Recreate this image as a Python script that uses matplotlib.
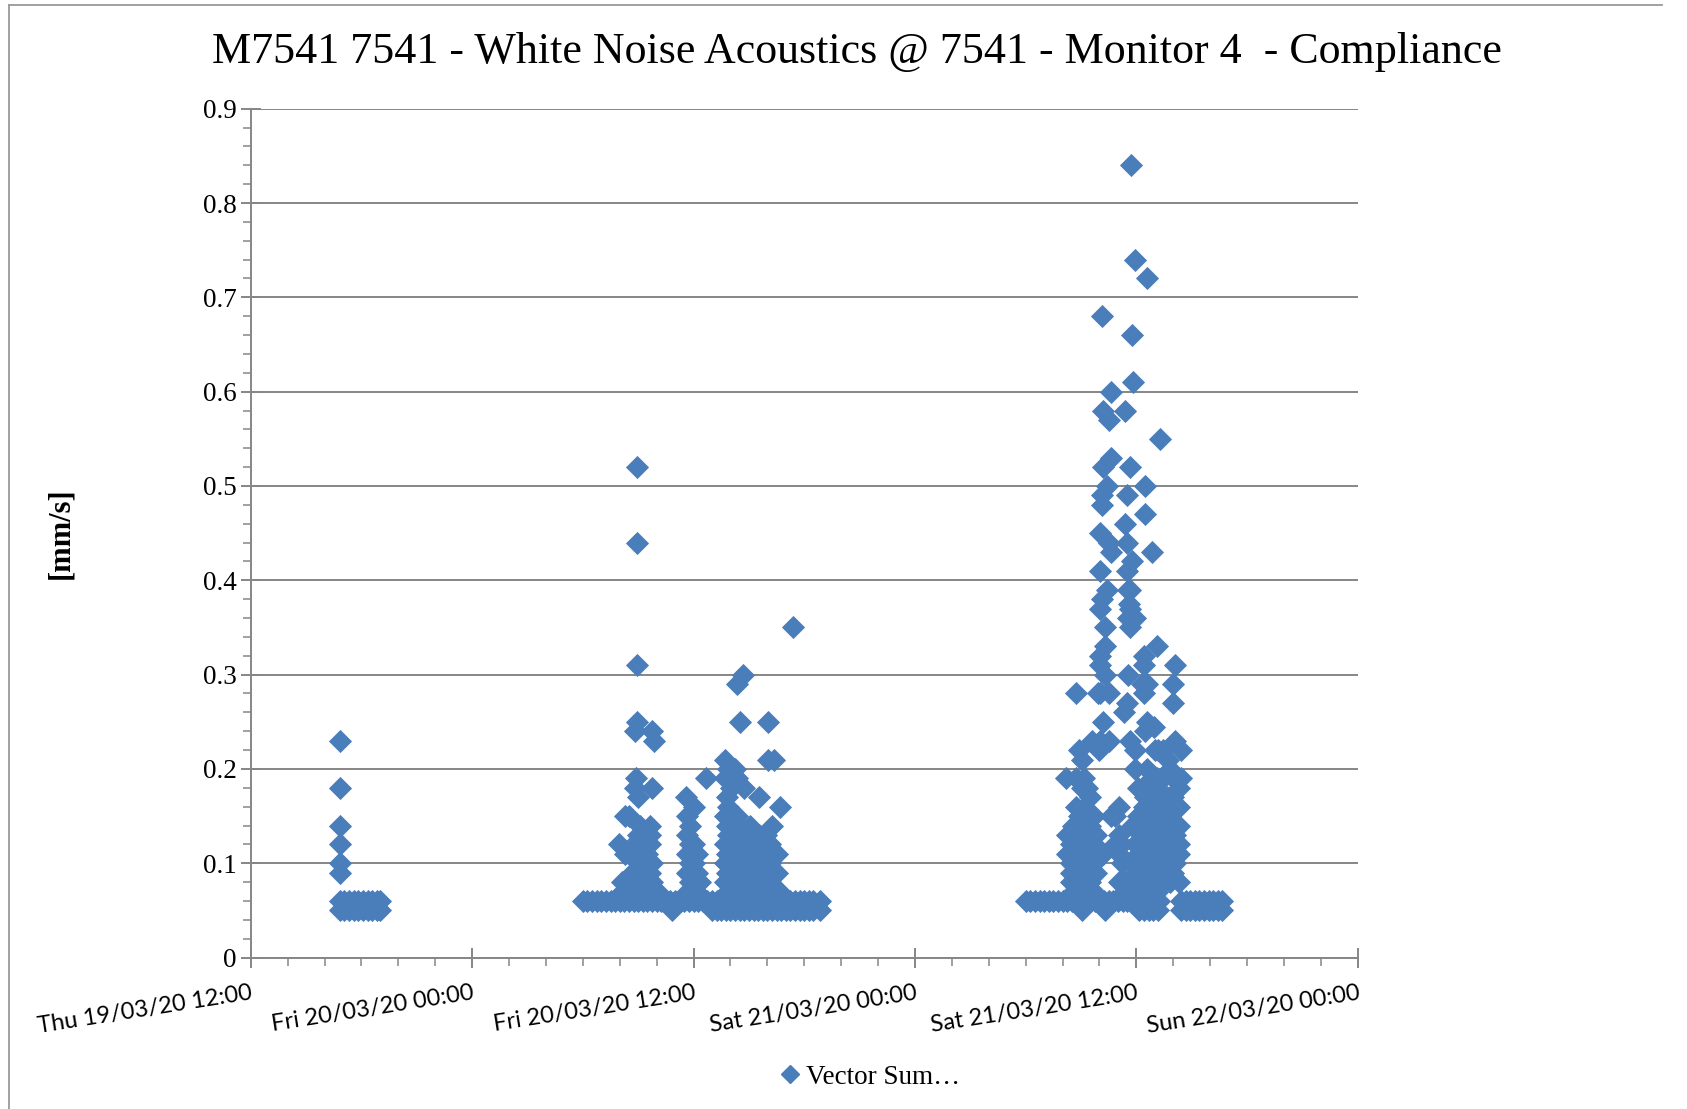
import matplotlib
matplotlib.use("Agg")
import matplotlib.pyplot as plt
import matplotlib.dates as mdates
from matplotlib.lines import Line2D
from matplotlib.ticker import MultipleLocator, FuncFormatter
import pandas as pd

TITLE = "M7541 7541 - White Noise Acoustics @ 7541 - Monitor 4  - Compliance"
Y_LABEL = "[mm/s]"
SERIES_NAME = "Vector Sum\u2026"
X_START = "2020-03-19 12:00"
X_END = "2020-03-22 00:00"
Y_MIN, Y_MAX = 0.0, 0.9

# Thu 19/03/20 readings (time, mm/s)
thu_points = [
    ("16:50", 0.23), ("16:50", 0.18), ("16:50", 0.14), ("16:50", 0.12), ("16:50", 0.10), ("16:50", 0.09),
    ("16:50", 0.06), ("16:50", 0.05), ("17:05", 0.06), ("17:05", 0.05), ("17:20", 0.06), ("17:20", 0.05),
    ("17:35", 0.06), ("17:35", 0.05), ("17:50", 0.06), ("17:50", 0.05), ("18:05", 0.06), ("18:05", 0.05),
    ("18:20", 0.06), ("18:20", 0.05), ("18:35", 0.06), ("18:35", 0.05), ("18:50", 0.06), ("18:50", 0.05),
    ("19:00", 0.06), ("19:00", 0.05),
]

# Fri 20/03/20 readings
fri_points = [
    # floor readings
    ("06:00", 0.06), ("06:15", 0.06), ("06:30", 0.06), ("06:45", 0.06), ("07:00", 0.06), ("07:15", 0.06),
    ("07:30", 0.06), ("07:45", 0.06), ("08:00", 0.06), ("08:15", 0.06), ("08:30", 0.06), ("08:45", 0.06),
    ("09:00", 0.06), ("09:15", 0.06), ("09:30", 0.06), ("09:45", 0.06), ("10:00", 0.06), ("10:15", 0.06),
    ("10:30", 0.06), ("10:45", 0.06), ("11:00", 0.06), ("11:15", 0.06), ("11:30", 0.06), ("11:45", 0.06),
    ("12:00", 0.06), ("12:15", 0.06), ("12:30", 0.06), ("12:45", 0.06), ("13:00", 0.06), ("13:15", 0.06),
    ("13:30", 0.06), ("13:45", 0.06), ("14:00", 0.06), ("14:15", 0.06), ("14:30", 0.06), ("14:45", 0.06),
    ("15:00", 0.06), ("15:15", 0.06), ("15:30", 0.06), ("15:45", 0.06), ("16:00", 0.06), ("16:15", 0.06),
    ("16:30", 0.06), ("16:45", 0.06), ("17:00", 0.06), ("17:15", 0.06), ("17:30", 0.06), ("17:45", 0.06),
    ("18:00", 0.06), ("18:15", 0.06), ("18:30", 0.06), ("18:50", 0.06),
    ("10:50", 0.05), ("13:00", 0.05), ("13:15", 0.05), ("13:30", 0.05), ("13:45", 0.05), ("14:00", 0.05),
    ("14:15", 0.05), ("14:30", 0.05), ("14:45", 0.05), ("15:00", 0.05), ("15:15", 0.05), ("15:30", 0.05),
    ("15:45", 0.05), ("16:00", 0.05), ("16:15", 0.05), ("16:30", 0.05), ("16:45", 0.05), ("17:00", 0.05),
    ("17:15", 0.05), ("17:30", 0.05), ("17:45", 0.05), ("18:00", 0.05), ("18:15", 0.05), ("18:30", 0.05),
    ("18:50", 0.05),
    # morning activity
    ("07:59", 0.12), ("08:06", 0.08), ("08:06", 0.07), ("08:17", 0.15), ("08:17", 0.11), ("08:20", 0.07),
    ("08:31", 0.15), ("08:31", 0.08), ("08:40", 0.09), ("08:45", 0.12), ("08:45", 0.11),
    ("08:55", 0.52), ("08:55", 0.44), ("08:55", 0.31), ("08:55", 0.25), ("08:50", 0.24), ("08:52", 0.19),
    ("08:50", 0.18), ("08:59", 0.17), ("08:59", 0.13), ("09:00", 0.12), ("09:00", 0.10), ("09:00", 0.08),
    ("09:05", 0.14), ("09:05", 0.11), ("09:09", 0.09), ("09:09", 0.07), ("09:15", 0.13), ("09:15", 0.11),
    ("09:20", 0.09), ("09:20", 0.08), ("09:25", 0.12), ("09:25", 0.10), ("09:30", 0.11), ("09:30", 0.07),
    ("09:37", 0.14), ("09:37", 0.13), ("09:37", 0.12), ("09:40", 0.09), ("09:44", 0.24), ("09:44", 0.18),
    ("09:45", 0.10), ("09:45", 0.08), ("09:51", 0.23), ("09:55", 0.07), ("10:05", 0.07),
    # midday activity
    ("11:36", 0.17), ("11:40", 0.15), ("11:40", 0.13), ("11:40", 0.11), ("11:40", 0.09), ("11:40", 0.07),
    ("11:50", 0.14), ("11:50", 0.12), ("11:50", 0.10), ("11:50", 0.08), ("12:00", 0.16), ("12:00", 0.12),
    ("12:00", 0.10), ("12:00", 0.09), ("12:00", 0.07), ("12:10", 0.11), ("12:10", 0.09), ("12:10", 0.07),
    ("12:20", 0.08), ("12:40", 0.19),
    # afternoon activity
    ("13:42", 0.21), ("13:42", 0.19), ("13:42", 0.15), ("13:42", 0.12), ("13:42", 0.10), ("13:42", 0.08),
    ("13:48", 0.17), ("13:48", 0.14), ("13:48", 0.11), ("13:48", 0.09), ("13:48", 0.07),
    ("13:53", 0.20), ("13:53", 0.16), ("13:53", 0.13), ("13:53", 0.10), ("13:53", 0.08),
    ("14:03", 0.18), ("14:03", 0.14), ("14:03", 0.12), ("14:03", 0.09), ("14:03", 0.07),
    ("14:16", 0.20), ("14:21", 0.19), ("14:21", 0.15), ("14:21", 0.12), ("14:21", 0.10), ("14:21", 0.08),
    ("14:22", 0.29), ("14:31", 0.25), ("14:31", 0.14), ("14:31", 0.11), ("14:31", 0.09), ("14:31", 0.07),
    ("14:42", 0.30), ("14:45", 0.18), ("14:42", 0.13), ("14:42", 0.10), ("14:42", 0.08),
    ("14:55", 0.12), ("14:55", 0.10), ("14:55", 0.09), ("14:55", 0.07),
    ("15:05", 0.14), ("15:05", 0.11), ("15:05", 0.08), ("15:13", 0.13), ("15:13", 0.11), ("15:13", 0.09),
    ("15:25", 0.12), ("15:25", 0.10), ("15:25", 0.08),
    ("15:34", 0.17), ("15:34", 0.13), ("15:34", 0.11), ("15:34", 0.09), ("15:34", 0.07),
    ("15:45", 0.12), ("15:45", 0.10), ("15:45", 0.08), ("15:55", 0.13), ("15:55", 0.11), ("15:55", 0.08),
    ("16:02", 0.25), ("16:02", 0.21), ("16:09", 0.12), ("16:09", 0.10), ("16:09", 0.08),
    ("16:16", 0.14), ("16:16", 0.11), ("16:23", 0.21), ("16:30", 0.11), ("16:30", 0.09),
    ("16:40", 0.16), ("16:40", 0.07), ("17:22", 0.35),
]

# Sat 21/03/20 readings
sat_points = [
    # floor readings
    ("06:00", 0.06), ("06:15", 0.06), ("06:30", 0.06), ("06:45", 0.06), ("07:00", 0.06), ("07:15", 0.06),
    ("07:30", 0.06), ("07:45", 0.06), ("08:00", 0.06), ("08:15", 0.06), ("08:30", 0.06), ("08:45", 0.06),
    ("09:00", 0.06), ("09:15", 0.06), ("09:30", 0.06), ("09:45", 0.06), ("10:00", 0.06), ("10:15", 0.06),
    ("10:30", 0.06), ("10:45", 0.06), ("11:00", 0.06), ("11:15", 0.06), ("11:30", 0.06), ("11:45", 0.06),
    ("12:00", 0.06), ("12:15", 0.06), ("12:30", 0.06), ("12:45", 0.06), ("13:00", 0.06), ("13:15", 0.06),
    ("14:25", 0.06), ("14:40", 0.06), ("14:55", 0.06), ("15:10", 0.06), ("15:25", 0.06), ("15:40", 0.06),
    ("15:55", 0.06), ("16:10", 0.06), ("16:25", 0.06), ("16:40", 0.06),
    ("09:02", 0.05), ("10:19", 0.05), ("12:10", 0.05), ("12:25", 0.05), ("12:40", 0.05), ("12:55", 0.05),
    ("13:10", 0.05), ("14:25", 0.05), ("14:40", 0.05), ("14:55", 0.05), ("15:10", 0.05), ("15:25", 0.05),
    ("15:40", 0.05), ("15:55", 0.05), ("16:10", 0.05), ("16:25", 0.05), ("16:40", 0.05),
    # early activity
    ("08:10", 0.19), ("08:15", 0.13), ("08:15", 0.11), ("08:27", 0.12), ("08:27", 0.10), ("08:27", 0.09),
    ("08:27", 0.08), ("08:35", 0.14), ("08:35", 0.11), ("08:35", 0.07),
    ("08:45", 0.28), ("08:45", 0.19), ("08:45", 0.16), ("08:45", 0.13), ("08:45", 0.10), ("08:45", 0.08),
    ("08:55", 0.22), ("08:55", 0.15), ("08:55", 0.12), ("08:55", 0.09), ("08:55", 0.07),
    ("09:02", 0.21), ("09:02", 0.18), ("09:02", 0.14), ("09:02", 0.11), ("09:02", 0.08),
    ("09:10", 0.19), ("09:10", 0.16), ("09:10", 0.13), ("09:10", 0.10), ("09:10", 0.07),
    ("09:20", 0.18), ("09:20", 0.15), ("09:20", 0.12), ("09:20", 0.09),
    ("09:30", 0.17), ("09:30", 0.14), ("09:30", 0.11), ("09:30", 0.08), ("09:35", 0.23),
    ("09:41", 0.15), ("09:41", 0.12), ("09:41", 0.10), ("09:41", 0.07), ("09:50", 0.13), ("09:50", 0.09),
    ("09:55", 0.28), ("10:00", 0.22),
    # peak around 10:00 - 11:00
    ("10:02", 0.45), ("10:02", 0.41), ("10:02", 0.37), ("10:02", 0.32), ("10:02", 0.31), ("10:02", 0.28),
    ("10:02", 0.23), ("10:09", 0.68), ("10:09", 0.49), ("10:09", 0.48), ("10:09", 0.38),
    ("10:12", 0.58), ("10:12", 0.52), ("10:12", 0.25), ("10:12", 0.11),
    ("10:19", 0.35), ("10:19", 0.33), ("10:19", 0.30), ("10:23", 0.50), ("10:23", 0.39),
    ("10:30", 0.57), ("10:30", 0.44), ("10:30", 0.28), ("10:30", 0.23),
    ("10:37", 0.60), ("10:37", 0.53), ("10:37", 0.43), ("10:37", 0.15),
    ("10:51", 0.15), ("10:51", 0.12), ("11:05", 0.16), ("11:05", 0.13), ("11:05", 0.11), ("11:05", 0.08),
    ("11:12", 0.12), ("11:12", 0.10), ("11:19", 0.08), ("11:19", 0.07),
    # peak around noon
    ("11:19", 0.26), ("11:22", 0.58), ("11:22", 0.46), ("11:29", 0.49), ("11:29", 0.44), ("11:29", 0.41),
    ("11:29", 0.27), ("11:33", 0.39), ("11:33", 0.36), ("11:33", 0.30), ("11:36", 0.375),
    ("11:40", 0.52), ("11:40", 0.39), ("11:40", 0.37), ("11:40", 0.35), ("11:40", 0.23),
    ("11:43", 0.84), ("11:47", 0.66), ("11:47", 0.42), ("11:50", 0.61), ("11:57", 0.74), ("11:57", 0.36),
    ("11:57", 0.22),
    ("11:45", 0.14), ("11:45", 0.10), ("11:45", 0.07), ("11:55", 0.20), ("11:55", 0.12), ("11:55", 0.09),
    ("12:05", 0.18), ("12:05", 0.15), ("12:05", 0.11), ("12:05", 0.07),
    ("12:15", 0.14), ("12:15", 0.12), ("12:15", 0.10), ("12:15", 0.08), ("12:18", 0.29), ("12:18", 0.18),
    ("12:25", 0.32), ("12:25", 0.31), ("12:25", 0.28), ("12:25", 0.16), ("12:25", 0.13), ("12:25", 0.09),
    ("12:29", 0.50), ("12:29", 0.47), ("12:29", 0.24), ("12:29", 0.17), ("12:29", 0.11), ("12:29", 0.06),
    ("12:36", 0.72), ("12:36", 0.29), ("12:36", 0.25), ("12:36", 0.20), ("12:36", 0.15), ("12:36", 0.12),
    ("12:36", 0.08),
    ("12:45", 0.18), ("12:45", 0.14), ("12:45", 0.10), ("12:45", 0.07), ("12:50", 0.43), ("12:50", 0.19),
    ("12:50", 0.12), ("12:57", 0.245), ("12:57", 0.16), ("12:57", 0.11), ("12:57", 0.09),
    ("13:00", 0.22), ("13:00", 0.18), ("13:00", 0.13), ("13:00", 0.08),
    ("13:07", 0.33), ("13:07", 0.19), ("13:07", 0.15), ("13:07", 0.10), ("13:07", 0.07),
    ("13:11", 0.22), ("13:11", 0.17), ("13:11", 0.12), ("13:18", 0.55), ("13:18", 0.16), ("13:18", 0.13),
    ("13:18", 0.10), ("13:28", 0.22), ("13:28", 0.19), ("13:28", 0.15), ("13:28", 0.11), ("13:28", 0.08),
    ("13:38", 0.17), ("13:38", 0.13), ("13:38", 0.09), ("13:42", 0.21),
    ("13:49", 0.20), ("13:49", 0.15), ("13:49", 0.11), ("13:49", 0.08),
    ("14:00", 0.29), ("14:00", 0.27), ("14:00", 0.19), ("14:00", 0.17), ("14:00", 0.14), ("14:00", 0.12),
    ("14:00", 0.09), ("14:07", 0.31), ("14:07", 0.23), ("14:07", 0.16), ("14:07", 0.13), ("14:07", 0.10),
    ("14:17", 0.18), ("14:17", 0.16), ("14:17", 0.14), ("14:17", 0.12), ("14:17", 0.11), ("14:17", 0.08),
    ("14:24", 0.22), ("14:24", 0.19),
]

DAYS = [("2020-03-19", thu_points), ("2020-03-20", fri_points), ("2020-03-21", sat_points)]

frames = []
for day, pts in DAYS:
    frames.append(pd.DataFrame({
        "time": pd.to_datetime([f"{day} {t}" for t, _ in pts]),
        "value": [v for _, v in pts],
    }))
df = pd.concat(frames, ignore_index=True)

BLUE = "#4A7EBB"
GRID = "#868686"
SERIF = ["Liberation Serif", "DejaVu Serif"]
SANS = ["Lato", "DejaVu Sans"]

W, H = 1687, 1109
fig = plt.figure(figsize=(W / 100, H / 100), dpi=100)
fig.patch.set_facecolor("white")
ax = fig.add_axes([250.7 / W, 1 - 957.6 / H, (1357.8 - 250.7) / W, (957.6 - 108.7) / H])

ax.plot(df["time"], df["value"], linestyle="none", marker="D", ms=10.8,
        mfc=BLUE, mec=BLUE, mew=0.6, zorder=3)

ax.set_xlim(pd.Timestamp(X_START), pd.Timestamp(X_END))
ax.set_ylim(Y_MIN, Y_MAX)

ax.xaxis.set_major_locator(mdates.HourLocator(byhour=[0, 12]))
ax.xaxis.set_minor_locator(mdates.HourLocator(byhour=range(0, 24, 2)))
ax.xaxis.set_major_formatter(mdates.DateFormatter("%a %d/%m/%y %H:%M"))
ax.yaxis.set_major_locator(MultipleLocator(0.1))
ax.yaxis.set_minor_locator(MultipleLocator(0.02))
ax.yaxis.set_major_formatter(FuncFormatter(lambda v, p: "%g" % round(v, 2)))

ax.yaxis.grid(True, which="major", color=GRID, lw=1.4)
ax.set_axisbelow(True)
for s in ("top", "right"):
    ax.spines[s].set_visible(False)
for s in ("left", "bottom"):
    ax.spines[s].set_color(GRID)
    ax.spines[s].set_linewidth(1.4)

ax.tick_params(axis="both", which="major", direction="inout", length=14, width=1.4, color=GRID)
ax.tick_params(axis="both", which="minor", direction="out", length=6, width=1.1, color=GRID)
ax.tick_params(axis="x", which="major", pad=11)
ax.tick_params(axis="y", which="major", pad=3)

for lbl in ax.get_xticklabels():
    lbl.set_fontfamily(SANS)
    lbl.set_fontsize(17)
    lbl.set_rotation(9)
    lbl.set_ha("right")
    lbl.set_va("top")
    lbl.set_rotation_mode("anchor")
for lbl in ax.get_yticklabels():
    lbl.set_fontfamily(SERIF)
    lbl.set_fontsize(19.5)

fig.text(61 / W, 1 - 533 / H, Y_LABEL, rotation=90, ha="center", va="center",
         family=SERIF, fontweight="bold", fontsize=22)

title = fig.text(856.5 / W, 1 - 52 / H, TITLE, ha="center", va="center",
                 family=SERIF, fontsize=27)
fig.canvas.draw()
bb = title.get_window_extent()
title.set_fontsize(27 * 1289 / bb.width)

handle = Line2D([], [], linestyle="none", marker="D", ms=9, mfc=BLUE, mec=BLUE)
fig.legend([handle], [SERIES_NAME], loc="center", bbox_to_anchor=(870 / W, 1 - 1077 / H),
           frameon=False, prop={"family": SERIF, "size": 19.5}, handlelength=0.8,
           handletextpad=0.2, borderpad=0)

# chart area border
fig.add_artist(Line2D([9 / W, 9 / W], [0, 1 - 5 / H], transform=fig.transFigure, color="#9a9a9a", lw=1.3))
fig.add_artist(Line2D([9 / W, 1662 / W], [1 - 5 / H, 1 - 5 / H], transform=fig.transFigure, color="#9a9a9a", lw=1.3))

fig.savefig("out.png", dpi=100)
